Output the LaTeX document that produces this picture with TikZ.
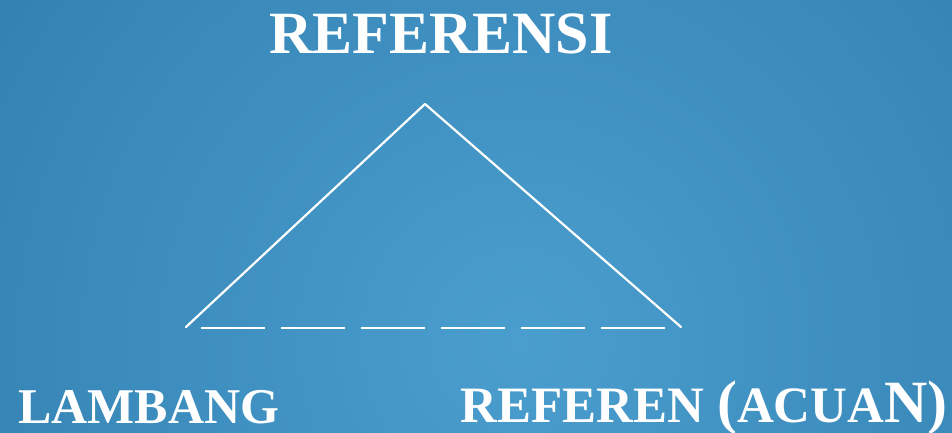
\documentclass[tikz,border=0pt]{standalone}
\usepackage{fontspec}
\setmainfont{Liberation Serif}
\usetikzlibrary{positioning}
\definecolor{BgDark}{HTML}{2A76A8}
\definecolor{BgLight}{HTML}{4A9ECD}
\tikzset{
  lbl/.style={text=white,inner sep=0pt,font=\bfseries\fontsize{50}{50}\selectfont},
  edge/.style={draw=white,line width=2.2pt,line cap=round,line join=round}
}
\begin{document}
\begin{tikzpicture}[x=1pt,y=-1pt]
  \useasboundingbox (0,0) rectangle (952,433);
  % background
  \begin{scope}
    \clip (0,0) rectangle (952,433);
    \shade[inner color=BgLight,outer color=BgDark] (520,340) circle (860);
  \end{scope}
  % triangle corners
  \coordinate (apex) at (425,104);
  \coordinate (left) at (186,327);
  \coordinate (right) at (681,327);
  \coordinate (dl) at (201,328);
  \coordinate (dr) at (665,328);
  \draw[edge] (left) -- (apex) -- (right);
  \draw[edge,line cap=butt,dash pattern=on 64pt off 16pt] (dl) -- (dr);
  % labels
  \node[lbl,anchor=base,font=\bfseries\fontsize{60}{60}\selectfont] (top) at (441,54) {REFERENSI};
  \node[lbl,anchor=base west] (sym) at (18,423) {LAMBANG};
  \node[lbl,anchor=base east,font=\bfseries\fontsize{51}{51}\selectfont] (ref) at (948,422)
    {REFEREN {\fontsize{60}{60}\selectfont(}ACUA{\fontsize{60}{60}\selectfont N)}};
\end{tikzpicture}
\end{document}
